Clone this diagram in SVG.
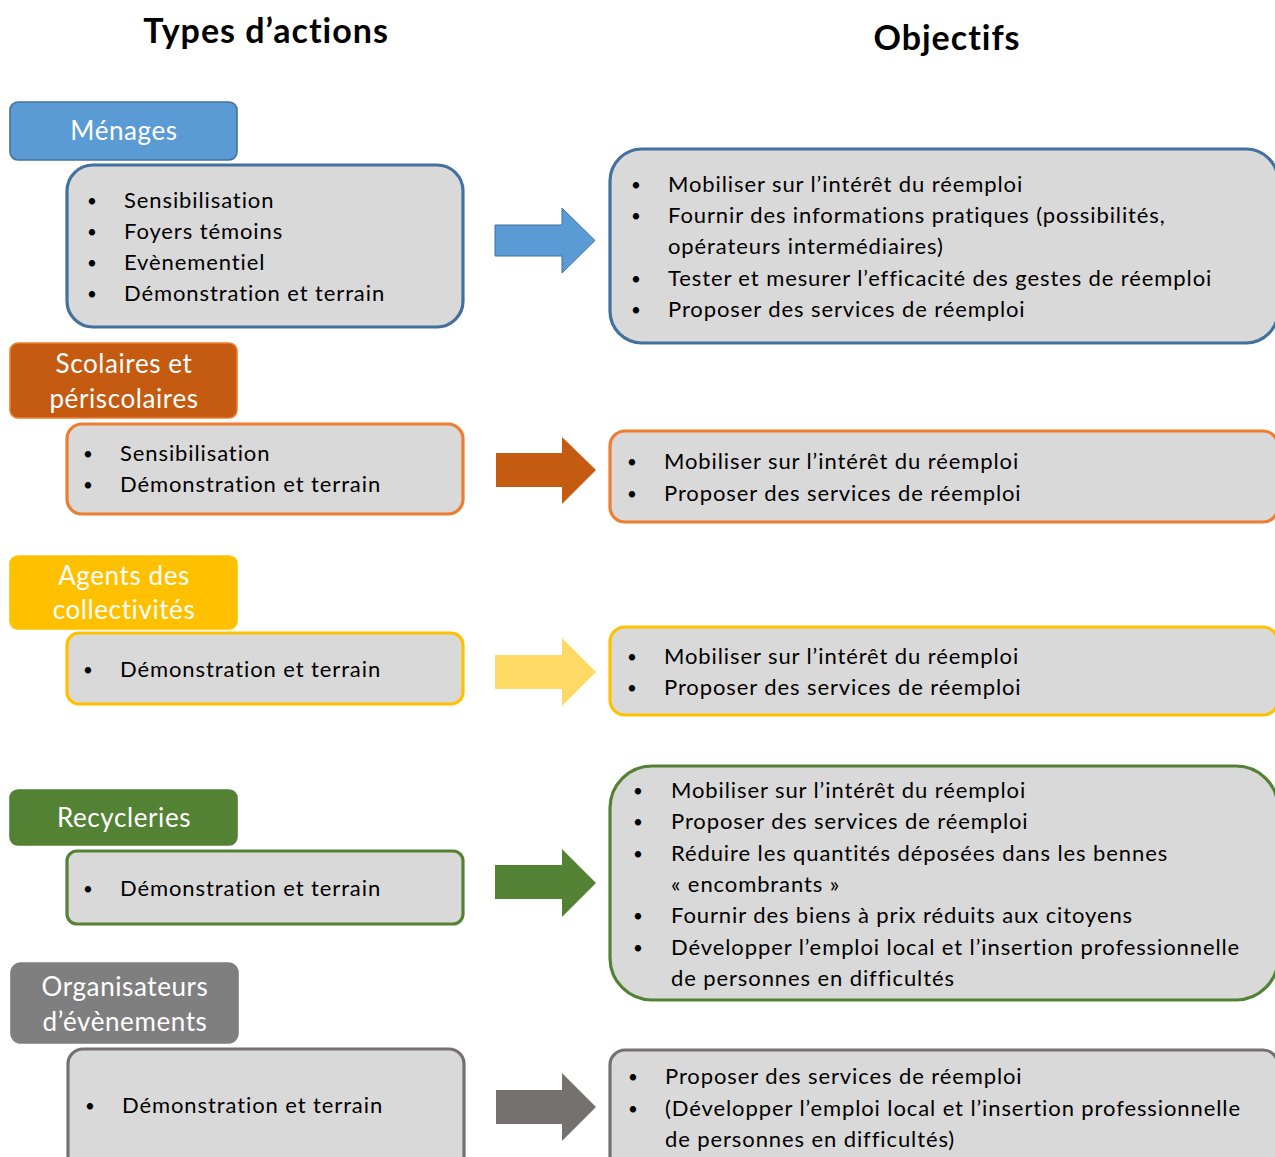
<svg xmlns="http://www.w3.org/2000/svg" width="1275" height="1157" viewBox="0 0 1275 1157">
  <style>
    text { font-family: "Lato", "Open Sans", "Liberation Sans", sans-serif; }
    .title { font-size: 34px; font-weight: bold; fill: #000; text-anchor: middle; letter-spacing: 1px; }
    .head { font-size: 26px; fill: #fff; text-anchor: middle; letter-spacing: 0.6px; }
    .item { font-size: 22px; fill: #000; letter-spacing: 0.9px; }
    .dot { font-size: 17px; fill: #000; text-anchor: middle; }
    .box { fill: #D9D9D9; stroke-width: 3.2; }
    .hbox { stroke-width: 1.6; }
  </style>

  <!-- column titles -->
  <text class="title" x="266" y="43">Types d’actions</text>
  <text class="title" x="947" y="50">Objectifs</text>

  <!-- Ménages -->
  <g id="menages">
    <rect class="hbox" x="10" y="102" width="227" height="58" rx="8" fill="#5B9BD5" stroke="#41719C"/>
    <text class="head" x="124" y="140">Ménages</text>
    <rect class="box" x="67" y="165" width="396" height="162" rx="26" stroke="#41719C"/>
    <text class="dot" x="92" y="207">•</text><text class="item" x="124" y="208">Sensibilisation</text>
    <text class="dot" x="92" y="238">•</text><text class="item" x="124" y="239">Foyers témoins</text>
    <text class="dot" x="92" y="269">•</text><text class="item" x="124" y="270">Evènementiel</text>
    <text class="dot" x="92" y="300">•</text><text class="item" x="124" y="301">Démonstration et terrain</text>
  </g>
  <g id="obj-menages">
    <rect class="box" x="610" y="149" width="668" height="194" rx="32" stroke="#41719C"/>
    <text class="dot" x="636" y="191">•</text><text class="item" x="668" y="192">Mobiliser sur l’intérêt du réemploi</text>
    <text class="dot" x="636" y="222">•</text><text class="item" x="668" y="223">Fournir des informations pratiques (possibilités,</text>
    <text class="item" x="668" y="254">opérateurs intermédiaires)</text>
    <text class="dot" x="636" y="285">•</text><text class="item" x="668" y="286">Tester et mesurer l’efficacité des gestes de réemploi</text>
    <text class="dot" x="636" y="316">•</text><text class="item" x="668" y="317">Proposer des services de réemploi</text>
  </g>

  <!-- Scolaires et périscolaires -->
  <g id="scolaires">
    <rect class="hbox" x="10" y="343" width="227" height="75" rx="8" fill="#C55A11" stroke="#ED7D31"/>
    <text class="head" x="124" y="373">Scolaires et</text>
    <text class="head" x="124" y="408">périscolaires</text>
    <rect class="box" x="67" y="424" width="396" height="90" rx="15" stroke="#ED7D31"/>
    <text class="dot" x="88" y="460">•</text><text class="item" x="120" y="461">Sensibilisation</text>
    <text class="dot" x="88" y="491">•</text><text class="item" x="120" y="492">Démonstration et terrain</text>
  </g>
  <g id="obj-scolaires">
    <rect class="box" x="610" y="431" width="668" height="91" rx="15" stroke="#ED7D31"/>
    <text class="dot" x="632" y="468">•</text><text class="item" x="664" y="469">Mobiliser sur l’intérêt du réemploi</text>
    <text class="dot" x="632" y="500">•</text><text class="item" x="664" y="501">Proposer des services de réemploi</text>
  </g>

  <!-- Agents des collectivités -->
  <g id="agents">
    <rect class="hbox" x="10" y="556" width="227" height="73" rx="8" fill="#FFC000" stroke="#FFC000"/>
    <text class="head" x="124" y="585">Agents des</text>
    <text class="head" x="124" y="619">collectivités</text>
    <rect class="box" x="67" y="633" width="396" height="71" rx="12" stroke="#FFC000"/>
    <text class="dot" x="88" y="676">•</text><text class="item" x="120" y="677">Démonstration et terrain</text>
  </g>
  <g id="obj-agents">
    <rect class="box" x="610" y="627" width="668" height="88" rx="15" stroke="#FFC000"/>
    <text class="dot" x="632" y="663">•</text><text class="item" x="664" y="664">Mobiliser sur l’intérêt du réemploi</text>
    <text class="dot" x="632" y="694">•</text><text class="item" x="664" y="695">Proposer des services de réemploi</text>
  </g>

  <!-- Recycleries -->
  <g id="recycleries">
    <rect class="hbox" x="10" y="790" width="227" height="55" rx="8" fill="#548235" stroke="#548235"/>
    <text class="head" x="124" y="827">Recycleries</text>
    <rect class="box" x="67" y="851" width="396" height="73" rx="10" stroke="#548235"/>
    <text class="dot" x="88" y="895">•</text><text class="item" x="120" y="896">Démonstration et terrain</text>
  </g>
  <g id="obj-recycleries">
    <rect class="box" x="610" y="766" width="668" height="234" rx="42" stroke="#548235"/>
    <text class="dot" x="638" y="797">•</text><text class="item" x="671" y="798">Mobiliser sur l’intérêt du réemploi</text>
    <text class="dot" x="638" y="828">•</text><text class="item" x="671" y="829">Proposer des services de réemploi</text>
    <text class="dot" x="638" y="860">•</text><text class="item" x="671" y="861">Réduire les quantités déposées dans les bennes</text>
    <text class="item" x="671" y="892">« encombrants »</text>
    <text class="dot" x="638" y="922">•</text><text class="item" x="671" y="923">Fournir des biens à prix réduits aux citoyens</text>
    <text class="dot" x="638" y="954">•</text><text class="item" x="671" y="955">Développer l’emploi local et l’insertion professionnelle</text>
    <text class="item" x="671" y="986">de personnes en difficultés</text>
  </g>

  <!-- Organisateurs d'évènements -->
  <g id="organisateurs">
    <rect class="hbox" x="11" y="963" width="227" height="80" rx="10" fill="#7F7F7F" stroke="#7F7F7F"/>
    <text class="head" x="125" y="996">Organisateurs</text>
    <text class="head" x="125" y="1031">d’évènements</text>
    <rect class="box" x="68" y="1049" width="396" height="130" rx="15" stroke="#767171"/>
    <text class="dot" x="90" y="1112">•</text><text class="item" x="122" y="1113">Démonstration et terrain</text>
  </g>
  <g id="obj-organisateurs">
    <rect class="box" x="610" y="1050" width="668" height="130" rx="15" stroke="#767171"/>
    <text class="dot" x="633" y="1083">•</text><text class="item" x="665" y="1084">Proposer des services de réemploi</text>
    <text class="dot" x="633" y="1115">•</text><text class="item" x="665" y="1116">(Développer l’emploi local et l’insertion professionnelle</text>
    <text class="item" x="665" y="1147">de personnes en difficultés)</text>
  </g>

  <!-- block arrows linking each action group to its objectives -->
  <g id="connectors">
    <path d="M495,225 H562 V208 L595,240.5 L562,273 V256 H495 Z" fill="#5B9BD5" stroke="#41719C" stroke-width="1"/>
    <path d="M496,453 H562 V437 L596,470 L562,504 V487 H496 Z" fill="#C55A11"/>
    <path d="M495,655 H562 V638 L596,672 L562,706 V689 H495 Z" fill="#FFD966"/>
    <path d="M495,865 H562 V849 L596,883 L562,917 V899 H495 Z" fill="#548235"/>
    <path d="M496,1090 H562 V1073 L596,1107 L562,1141 V1124 H496 Z" fill="#767171"/>
  </g>
</svg>
